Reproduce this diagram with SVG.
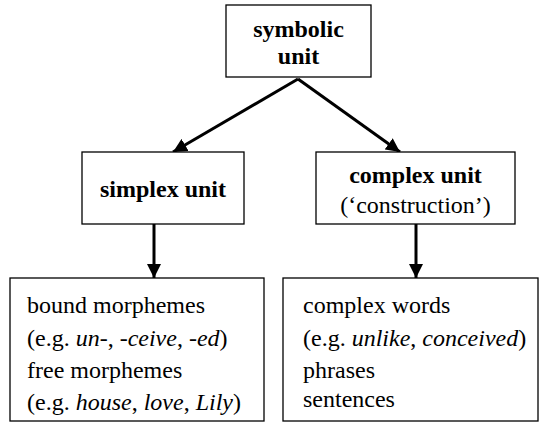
<svg xmlns="http://www.w3.org/2000/svg" width="539" height="423" viewBox="0 0 539 423">
<defs>
<marker id="ah" markerUnits="userSpaceOnUse" markerWidth="14" markerHeight="14" viewBox="0 0 14 14" refX="14" refY="7" orient="auto">
<path d="M0,0 L14,7 L0,14 Z" fill="#000"/>
</marker>
</defs>
<rect width="539" height="423" fill="#fff"/>
<g id="connectors" stroke="#000" stroke-width="3" fill="none">
<line x1="298" y1="79" x2="173" y2="152" marker-end="url(#ah)"/>
<line x1="298" y1="79" x2="400" y2="152" marker-end="url(#ah)"/>
<line x1="154" y1="224" x2="154" y2="278" marker-end="url(#ah)"/>
<line x1="416" y1="224" x2="416" y2="278" marker-end="url(#ah)"/>
</g>
<g id="symbolic-unit">
<rect x="226" y="5" width="145" height="72" fill="#fff" stroke="#000" stroke-width="1.3"/>
<text x="298.5" y="37" font-family="Liberation Serif, Times New Roman, serif" font-size="24" font-weight="bold" text-anchor="middle">symbolic</text>
<text x="298.5" y="64" font-family="Liberation Serif, Times New Roman, serif" font-size="24" font-weight="bold" text-anchor="middle">unit</text>
</g>
<g id="simplex-unit">
<rect x="82" y="152" width="162" height="72" fill="#fff" stroke="#000" stroke-width="1.3"/>
<text x="163" y="197" font-family="Liberation Serif, Times New Roman, serif" font-size="24" font-weight="bold" text-anchor="middle">simplex unit</text>
</g>
<g id="complex-unit">
<rect x="316" y="152" width="199" height="72" fill="#fff" stroke="#000" stroke-width="1.3"/>
<text x="415.5" y="183" font-family="Liberation Serif, Times New Roman, serif" font-size="24" font-weight="bold" text-anchor="middle">complex unit</text>
<text x="415.5" y="213" font-family="Liberation Serif, Times New Roman, serif" font-size="24" text-anchor="middle">(‘construction’)</text>
</g>
<g id="simplex-examples">
<rect x="10" y="278" width="254" height="143" fill="#fff" stroke="#000" stroke-width="1.3"/>
<text x="27" y="313" font-family="Liberation Serif, Times New Roman, serif" font-size="24">bound morphemes</text>
<text x="27" y="346" font-family="Liberation Serif, Times New Roman, serif" font-size="24">(e.g. <tspan font-style="italic">un-</tspan>, <tspan font-style="italic">-ceive</tspan>, <tspan font-style="italic">-ed</tspan>)</text>
<text x="27" y="378" font-family="Liberation Serif, Times New Roman, serif" font-size="24">free morphemes</text>
<text x="27" y="410" font-family="Liberation Serif, Times New Roman, serif" font-size="24">(e.g. <tspan font-style="italic">house</tspan>, <tspan font-style="italic">love</tspan>, <tspan font-style="italic">Lily</tspan>)</text>
</g>
<g id="complex-examples">
<rect x="283" y="278" width="255" height="143" fill="#fff" stroke="#000" stroke-width="1.3"/>
<text x="303" y="313" font-family="Liberation Serif, Times New Roman, serif" font-size="24">complex words</text>
<text x="303" y="346" font-family="Liberation Serif, Times New Roman, serif" font-size="24">(e.g. <tspan font-style="italic">unlike</tspan>, <tspan font-style="italic">conceived</tspan>)</text>
<text x="303" y="378" font-family="Liberation Serif, Times New Roman, serif" font-size="24">phrases</text>
<text x="303" y="407" font-family="Liberation Serif, Times New Roman, serif" font-size="24">sentences</text>
</g>
</svg>
